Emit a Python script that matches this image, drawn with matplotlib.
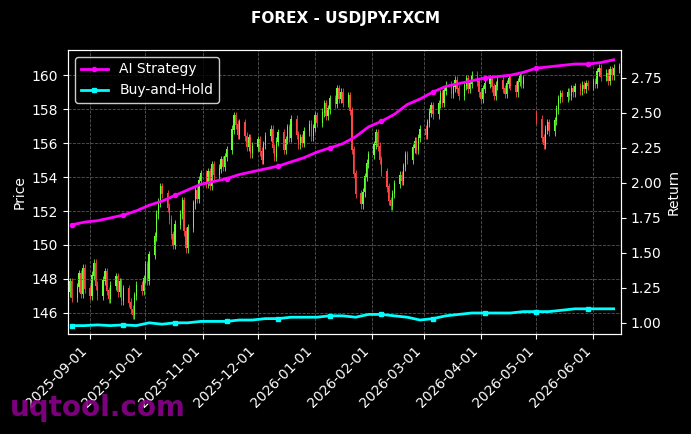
import matplotlib
matplotlib.use("Agg")
import matplotlib.pyplot as plt
import matplotlib.dates as mdates
import numpy as np
import pandas as pd

nan = np.nan
start_date = "2025-08-20"
closes = [147.2,147.8,146.9,
147.5,148.3,147.1,148.6,147.4,
147.0,148.2,148.9,147.6,147.0,
147.9,148.4,147.3,146.8,147.6,
148.1,147.2,147.8,146.7,147.4,
146.6,146.2,145.9,147.0,147.6,
147.3,148.0,148.8,147.9,149.4,
150.5,151.8,152.5,153.4,153.0,
152.2,151.5,150.6,150.0,151.2,
151.8,152.6,150.8,149.8,151.0,
152.4,153.2,152.7,153.8,154.2,
153.6,154.3,153.5,154.7,154.1,
154.5,155.0,154.6,155.2,155.6,
156.8,157.6,157.1,156.5,157.2,
156.4,155.8,156.3,155.4,155.8,
156.2,155.5,155.0,155.9,156.4,
156.8,155.7,155.2,156.1,156.6,
155.6,156.2,156.9,156.3,157.4,
156.5,155.9,156.3,156.0,156.7,
157.1,156.4,156.9,157.6,157.2,
157.8,158.3,157.6,158.0,158.6,
158.3,159.2,158.6,159.0,158.4,
158.8,157.9,155.6,154.2,153.0,
152.4,153.1,154.0,154.8,155.3,
155.9,156.6,155.8,155.0,154.3,
153.4,152.6,152.3,153.0,153.6,
154.1,153.8,154.6,155.3,155.0,
155.7,156.1,155.6,156.3,156.8,
156.5,157.2,157.8,158.2,157.7,
158.3,158.9,158.4,159.1,159.4,
158.9,159.3,159.7,159.2,158.8,
159.4,159.8,159.2,159.5,160.0,
159.6,159.0,158.6,159.2,159.5,
159.8,159.3,158.8,159.4,159.7,
159.2,158.9,159.5,159.8,159.4,
159.0,159.6,159.9,159.5,159.8,
nan,nan,nan,nan,157.4,
156.3,155.9,156.8,157.2,156.7,
157.3,158.0,158.6,158.9,158.7,
159.0,158.8,159.2,159.0,159.3,
159.1,159.4,159.2,159.5,159.4,
159.6,159.5,160.2,160.4,159.9,
160.1,159.7,160.3,160.0,160.4,
160.5]

ai_ret = [1.70,1.72,1.73,1.75,1.77,1.80,1.84,1.87,1.91,1.95,1.99,2.01,2.03,2.06,2.08,2.10,2.12,2.15,2.18,2.22,2.25,2.28,2.33,2.40,2.44,2.49,2.56,2.60,2.65,2.69,2.71,2.73,2.75,2.76,2.77,2.79,2.82,2.83,2.84,2.85,2.85,2.86,2.88]
bh_ret = [0.98,0.98,0.985,0.98,0.985,0.98,1.00,0.99,1.00,1.00,1.01,1.01,1.01,1.02,1.02,1.03,1.03,1.04,1.04,1.04,1.05,1.05,1.04,1.06,1.06,1.05,1.04,1.02,1.03,1.05,1.06,1.07,1.07,1.07,1.07,1.08,1.08,1.08,1.09,1.10,1.10,1.10,1.10]

dates = pd.bdate_range(start_date, periods=len(closes))
c = np.array(closes)
o = np.concatenate([[c[0]], c[:-1]])
for i in range(1, len(o)):
    if np.isnan(o[i]):
        o[i] = o[i-1] if not np.isnan(o[i-1]) else c[i-1]
    elif np.isnan(c[i-1]):
        pass
# fix opens after gap
for i in range(1, len(c)):
    if np.isnan(c[i-1]) and not np.isnan(c[i]):
        j = i-1
        while j >= 0 and np.isnan(c[j]):
            j -= 1
        o[i] = c[i] + 0.3
hi = np.maximum(o, c) + 0.25
lo = np.minimum(o, c) - 0.25
wdates = pd.date_range("2025-08-22", periods=len(ai_ret), freq="7D")

fig = plt.figure(figsize=(6.91, 4.34), dpi=100, facecolor="black")
ax = fig.add_axes([68/691, 1-334/434, 553/691, 284/434])
ax.set_facecolor("black")
x = mdates.date2num(dates)
up = c >= o
cols = np.where(up, "#66ff33", "#ff4444")
ax.vlines(x, lo, hi, colors=cols, linewidth=0.6)
ax.bar(x, np.abs(c-o)+0.05, bottom=np.minimum(o, c), width=0.7, color=cols, linewidth=0)
ax.set_ylim(144.75, 161.5)
ax.set_xlim(mdates.date2num(pd.Timestamp("2025-08-20")), mdates.date2num(pd.Timestamp("2026-06-16")))
ax.set_ylabel("Price", color="white")
ax.grid(True, color="#555555", linestyle="--", linewidth=0.6)

ax2 = ax.twinx()
l1, = ax2.plot(wdates, ai_ret, color="#ff00ff", lw=2, marker="o", ms=3, markevery=4, label="AI Strategy")
l2, = ax2.plot(wdates, bh_ret, color="#00ffff", lw=2, marker="s", ms=3, markevery=4, label="Buy-and-Hold")
ax2.set_ylim(0.92, 2.95)
ax2.set_ylabel("Return", color="white")
for a in (ax, ax2):
    a.tick_params(colors="white")
    for s in a.spines.values():
        s.set_color("white")
ax.xaxis.set_major_locator(mdates.MonthLocator())
ax.xaxis.set_major_formatter(mdates.DateFormatter("%Y-%m-%d"))
plt.setp(ax.get_xticklabels(), rotation=45, ha="right")
leg = ax2.legend(handles=[l1, l2], loc="upper left", facecolor="black", edgecolor="white", labelcolor="white")
fig.text(0.5, 1-18/434, "FOREX - USDJPY.FXCM", color="white", fontsize=11, fontweight="bold", ha="center", va="center")
fig.text(10/691, 1-408/434, "uqtool.com", color="#8B008B", fontsize=20, fontweight="bold", ha="left", va="center", alpha=0.9)
fig.savefig("out.png", dpi=100, facecolor="black")
